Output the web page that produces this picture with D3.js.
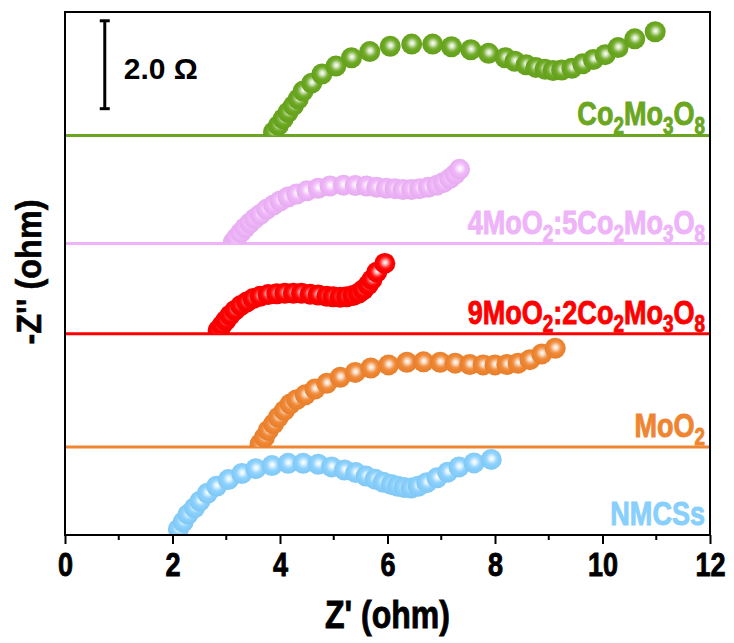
<!DOCTYPE html>
<html>
<head>
<meta charset="utf-8">
<script src="https://cdn.jsdelivr.net/npm/d3@7"></script>
<style>
  body { margin: 0; background: #fff; }
  svg { display: block; }
</style>
</head>
<body>
<div id="chart"></div>
<script>
// Datos (Z' y -Z'' en ohm, sin desplazamiento)
var nmcssX = [2.11,2.20,2.29,2.41,2.51,2.65,2.82,3.04,3.29,3.55,3.85,4.15,4.43,4.71,4.96,5.20,5.41,5.60,5.77,5.92,6.07,6.19,6.31,6.44,6.57,6.73,6.92,7.12,7.33,7.61,7.93]
var nmcssY = [0.13,0.30,0.47,0.62,0.77,0.95,1.11,1.26,1.40,1.51,1.58,1.63,1.63,1.61,1.55,1.48,1.42,1.34,1.27,1.20,1.15,1.11,1.08,1.07,1.11,1.19,1.30,1.43,1.55,1.64,1.72]

var moo2X = [3.63,3.71,3.78,3.88,3.97,4.08,4.19,4.31,4.47,4.65,4.87,5.12,5.40,5.69,6.02,6.36,6.67,6.98,7.26,7.53,7.78,8.00,8.22,8.43,8.65,8.87,9.12]
var moo2Y = [0.07,0.22,0.38,0.53,0.68,0.83,0.98,1.08,1.19,1.32,1.45,1.59,1.70,1.80,1.87,1.93,1.94,1.93,1.91,1.88,1.87,1.87,1.88,1.91,1.99,2.12,2.25]

var m9c2X = [2.85,2.92,2.99,3.07,3.16,3.27,3.38,3.50,3.63,3.78,3.94,4.09,4.25,4.40,4.56,4.71,4.87,4.99,5.12,5.24,5.36,5.46,5.55,5.64,5.71,5.80,5.95]
var m9c2Y = [0.08,0.19,0.30,0.42,0.53,0.64,0.72,0.80,0.85,0.89,0.91,0.92,0.92,0.92,0.90,0.88,0.85,0.84,0.83,0.84,0.87,0.92,1.00,1.11,1.23,1.40,1.60]

var m4c5X = [3.13,3.19,3.27,3.35,3.44,3.53,3.63,3.75,3.88,4.00,4.15,4.31,4.50,4.71,4.93,5.18,5.40,5.61,5.80,5.98,6.14,6.29,6.45,6.60,6.76,6.92,7.04,7.16,7.26,7.34]
var m4c5Y = [0.03,0.13,0.25,0.36,0.47,0.57,0.66,0.78,0.88,0.97,1.06,1.13,1.20,1.26,1.31,1.33,1.32,1.31,1.28,1.26,1.25,1.23,1.23,1.25,1.28,1.33,1.39,1.48,1.58,1.69]

var cmoX = [3.88,3.97,4.06,4.15,4.25,4.34,4.43,4.59,4.78,5.04,5.33,5.67,6.05,6.45,6.84,7.19,7.55,7.88,8.19,8.37,8.58,8.76,8.93,9.08,9.24,9.43,9.63,9.83,10.05,10.29,10.60,10.98]
var cmoY = [0.08,0.23,0.38,0.53,0.68,0.83,1.01,1.19,1.40,1.58,1.77,1.91,2.03,2.08,2.08,2.02,1.95,1.87,1.77,1.69,1.61,1.55,1.51,1.48,1.49,1.53,1.63,1.73,1.84,2.00,2.20,2.36]

// desplazamiento vertical de cada curva (ohm)
var offsets = [0, 2.0, 4.58, 6.63, 9.09]
var colores = ["#87cffd", "#ef8530", "#ff0000", "#eeb3f8", "#6aa71f"]
// etiquetas: [texto, subindice?]
var etiquetas = [
  [["NMCSs",0]],
  [["MoO",0],["2",1]],
  [["9MoO",0],["2",1],[":2Co",0],["2",1],["Mo",0],["3",1],["O",0],["8",1]],
  [["4MoO",0],["2",1],[":5Co",0],["2",1],["Mo",0],["3",1],["O",0],["8",1]],
  [["Co",0],["2",1],["Mo",0],["3",1],["O",0],["8",1]]
]
var xTickValues = [0,2,4,6,8,10,12]
var xMinorValues = [1,3,5,7,9,11]

var series = [
  {x:nmcssX, y:nmcssY},
  {x:moo2X, y:moo2Y},
  {x:m9c2X, y:m9c2Y},
  {x:m4c5X, y:m4c5Y},
  {x:cmoX, y:cmoY}
]

var ancho = 734, alto = 643
var margin = {top:12, right:24, bottom:108, left:65}
var fuente = "'Liberation Sans',Arial,sans-serif"
var estrecho = 0.82   // la figura usa una letra estrecha: escalo en x
var grosor = 0.9      // trazo extra para que la letra estrecha se vea negrita

var svg = d3.select("#chart").append("svg")
  .attr("width", ancho).attr("height", alto)

var x = d3.scaleLinear().domain([0,12]).range([margin.left, ancho-margin.right])
var y = d3.scaleLinear().domain([0,11.9]).range([alto-margin.bottom, margin.top])

var defs = svg.append("defs")

series.forEach(function(s, i){
  var c = d3.color(colores[i])
  var g = defs.append("radialGradient").attr("id","bola"+i)
    .attr("cx","52%").attr("cy","46%").attr("r","50%")
  g.append("stop").attr("offset","0%").attr("stop-color","#ffffff")
  g.append("stop").attr("offset","22%").attr("stop-color", d3.interpolateRgb("#ffffff", c)(0.3))
  g.append("stop").attr("offset","50%").attr("stop-color", d3.interpolateRgb("#ffffff", c)(0.85))
  g.append("stop").attr("offset","68%").attr("stop-color", c.formatHex())
  g.append("stop").attr("offset","100%").attr("stop-color", c.darker(0.1).formatHex())

  defs.append("clipPath").attr("id","clip"+i)
    .append("rect")
    .attr("x", x(0)).attr("y", y(11.9))
    .attr("width", x(12)-x(0))
    .attr("height", y(offsets[i]) - y(11.9))
})

// lineas base
svg.selectAll("line.base")
  .data(offsets.slice(1))
  .enter().append("line")
  .attr("class","base")
  .attr("x1", x(0)).attr("x2", x(12))
  .attr("y1", function(d){ return y(d) }).attr("y2", function(d){ return y(d) })
  .style("stroke", function(d,i){ return colores[i+1] })
  .style("stroke-width", 3)

// puntos
series.forEach(function(s, i){
  var pts = s.x.map(function(v,j){ return [v, s.y[j] + offsets[i]] })
  svg.append("g").attr("clip-path","url(#clip"+i+")")
    .selectAll("circle")
    .data(pts)
    .enter().append("circle")
    .attr("cx", function(d){ return x(d[0]) })
    .attr("cy", function(d){ return y(d[1]) })
    .attr("r", 10.5)
    .style("fill", "url(#bola"+i+")")
})

// etiquetas de cada curva
series.forEach(function(s, i){
  var t = svg.append("text")
    .attr("transform","translate("+(x(12)-5)+","+(y(offsets[i])-10)+") scale("+estrecho+",1)")
    .attr("text-anchor","end")
    .style("font-family", fuente)
    .style("font-weight","bold")
    .style("font-size","33px")
    .style("fill", colores[i])
    .style("stroke", colores[i]).style("stroke-width", grosor)
  var prev = 0
  etiquetas[i].forEach(function(p){
    var shift = p[1] ? 8 : 0
    t.append("tspan").text(p[0])
      .attr("dy", shift - prev)
      .style("font-size", p[1] ? "23px" : "33px")
    prev = shift
  })
})

// marco
svg.append("rect")
  .attr("x", x(0)).attr("y", y(11.9))
  .attr("width", x(12)-x(0)).attr("height", y(0)-y(11.9))
  .style("fill","none").style("stroke","#000").style("stroke-width",2)

// eje x
var ejeX = svg.append("g")
  .attr("transform","translate(0,"+y(0)+")")
  .call(d3.axisBottom(x).tickValues(xTickValues).tickSize(9).tickPadding(9).tickFormat(d3.format("d")))
ejeX.select(".domain").remove()
ejeX.selectAll("line").style("stroke","#000").style("stroke-width",2)
ejeX.selectAll("text")
  .attr("transform","scale("+estrecho+",1)")
  .style("font-family", fuente).style("font-weight","bold").style("font-size","33px")
  .style("fill","#000").style("stroke","#000").style("stroke-width", grosor)

svg.append("g").selectAll("line")
  .data(xMinorValues)
  .enter().append("line")
  .attr("x1", function(d){ return x(d) }).attr("x2", function(d){ return x(d) })
  .attr("y1", y(0)).attr("y2", y(0)+5)
  .style("stroke","#000").style("stroke-width",2)

// titulos
svg.append("text")
  .attr("transform","translate("+((x(0)+x(12))/2)+",628) scale("+estrecho+",1)")
  .attr("text-anchor","middle")
  .style("font-family", fuente).style("font-weight","bold").style("font-size","39px")
  .style("stroke","#000").style("stroke-width", grosor)
  .text("Z' (ohm)")

svg.append("text")
  .attr("transform","translate(41,272) rotate(-90) scale(0.9,1)")
  .attr("text-anchor","middle")
  .style("font-family", fuente).style("font-weight","bold").style("font-size","36px")
  .style("stroke","#000").style("stroke-width", 0.6)
  .text("-Z'' (ohm)")

// barra de escala 2.0 ohm
var barX = x(0.74), barTop = y(11.7), barBot = y(9.7)
var barra = svg.append("g").style("stroke","#000").style("stroke-width",3)
barra.append("line").attr("x1",barX).attr("x2",barX).attr("y1",barTop).attr("y2",barBot)
barra.append("line").attr("x1",barX-5).attr("x2",barX+5).attr("y1",barTop).attr("y2",barTop)
barra.append("line").attr("x1",barX-5).attr("x2",barX+5).attr("y1",barBot).attr("y2",barBot)
svg.append("text")
  .attr("x", barX + 19).attr("y", (barTop+barBot)/2 + 14)
  .style("font-family", fuente).style("font-weight","bold").style("font-size","30px")
  .text("2.0 \u03A9")
</script>
</body>
</html>
